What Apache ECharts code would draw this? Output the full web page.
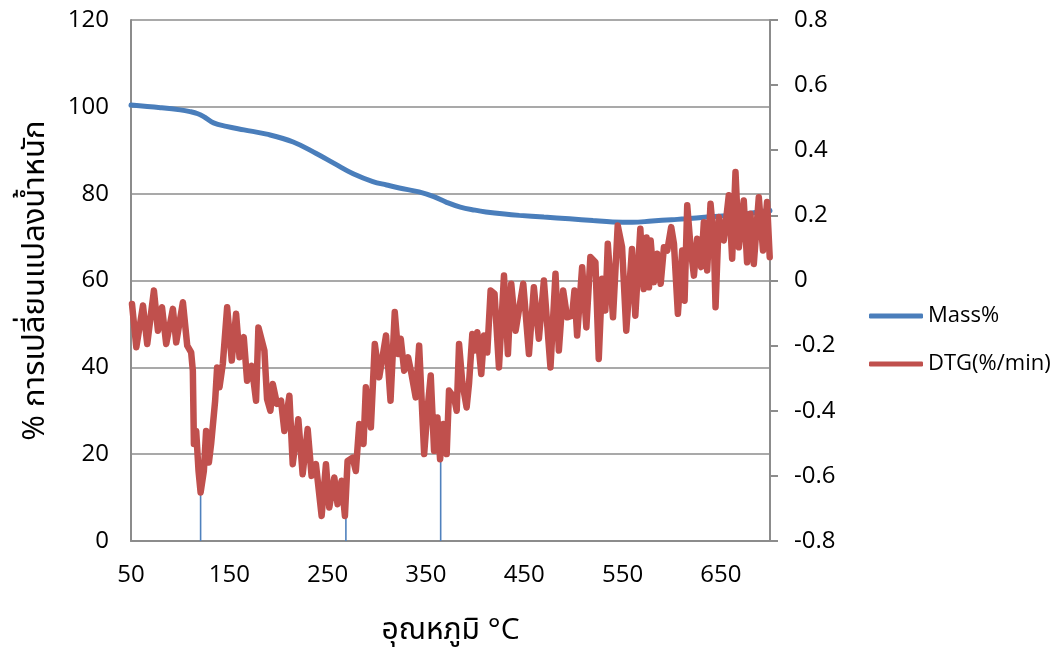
<!DOCTYPE html>
<html>
<head>
<meta charset="utf-8">
<style>
  html, body { margin: 0; padding: 0; background: #ffffff; overflow: hidden; }
  #chart { width: 1064px; height: 650px; }
</style>
<script src="https://cdn.jsdelivr.net/npm/echarts@6/dist/echarts.min.js"></script>
</head>
<body>
<div id="chart"></div>
<script>
// Temperature (°C) and remaining mass (%)
const massTemp = [50, 80, 100, 110, 118, 125, 134, 147, 165, 188, 215, 238, 258, 276, 296, 310, 323, 343, 358, 371, 385, 400, 411, 430, 445, 470, 496, 520, 540, 560, 580, 600, 614, 636, 658, 680, 695, 700];
const massPct  = [100.4, 99.8, 99.3, 98.9, 98.4, 97.6, 96.3, 95.5, 94.7, 93.7, 91.9, 89.3, 86.8, 84.6, 82.8, 82.0, 81.3, 80.4, 79.3, 78.0, 76.9, 76.2, 75.8, 75.3, 75.0, 74.6, 74.2, 73.8, 73.5, 73.4, 73.7, 74.0, 74.2, 74.6, 75.0, 75.5, 76.0, 76.1];

// Temperature (°C) and derivative mass loss (%/min)
const dtgTemp = [51.0, 55.4, 62.2, 66.5, 73.3, 77.4, 81.5, 85.8, 92.6, 96.0, 102.8, 107.2, 111.2, 112.9, 114.0, 116.3, 118.7, 120.8, 124.1, 126.4, 129.2, 131.5, 135.6, 137.6, 140.0, 143.4, 147.8, 152.5, 156.9, 160.4, 164.7, 168.1, 172.8, 177.2, 179.6,
  185.7, 188.4, 191.8, 194.2, 198.5, 202.6, 206.0, 211.1, 214.5, 220.2, 224.6, 229.7, 233.7, 238.1, 243.9, 248.3, 251.7, 256.8, 260.1, 264.2, 267.6, 270.3, 275.4, 278.7, 282.2, 286.5, 288.9, 294.0, 298.0, 302.5, 309.4, 314.0,
  318.3, 321.8, 324.4, 327.9, 331.9, 335.3, 339.6, 343.1, 348.2, 351.5, 354.9, 358.3, 361.7, 364.4, 367.8, 371.1, 373.5, 378.6, 381.3, 383.7, 387.0, 391.4, 393.8, 397.2, 399.5, 402.3, 406.3, 409.1, 412.4, 415.8, 419.8, 424.3, 429.4, 433.4, 436.8, 441.2,
  449.0, 454.8, 459.8, 464.9, 470.0, 476.7, 481.8, 485.2, 489.6, 493.6, 498.7, 501.1, 503.8, 508.9, 513.2, 517.3, 522.4, 525.8, 529.2, 532.5, 535.0, 540.3, 545.1, 549.5, 553.8, 559.6, 563.0, 568.1, 571.5,
  574.4, 576.9, 578.6, 582.0, 585.3, 588.8, 592.1, 595.5, 599.5, 602.3, 606.3, 610.7, 613.1, 615.8, 619.2, 622.6, 625.9, 630.0, 632.7, 636.1, 639.5, 642.9, 644.6, 648.0, 653.0, 658.1, 661.5, 664.9, 668.3, 673.3, 676.7, 680.1, 683.5, 688.6, 692.9, 697.0, 699.7];
const dtgRate = [-0.072, -0.205, -0.077, -0.195, -0.031, -0.154, -0.082, -0.195, -0.087, -0.190, -0.067, -0.200, -0.221, -0.277, -0.502, -0.462, -0.585, -0.651, -0.585, -0.462, -0.559, -0.502, -0.369, -0.267, -0.328, -0.256, -0.082, -0.246, -0.102, -0.236, -0.174, -0.308, -0.262, -0.369, -0.144,
  -0.215, -0.364, -0.400, -0.318, -0.379, -0.369, -0.462, -0.354, -0.564, -0.426, -0.595, -0.456, -0.600, -0.564, -0.723, -0.564, -0.697, -0.605, -0.687, -0.615, -0.723, -0.554, -0.544, -0.585, -0.441, -0.502, -0.328, -0.451, -0.195, -0.297, -0.169, -0.369,
  -0.097, -0.226, -0.179, -0.277, -0.236, -0.287, -0.359, -0.200, -0.533, -0.400, -0.292, -0.523, -0.421, -0.549, -0.441, -0.533, -0.338, -0.359, -0.400, -0.195, -0.313, -0.390, -0.318, -0.164, -0.215, -0.159, -0.287, -0.169, -0.221, -0.031, -0.041, -0.267, 0.015, -0.226, -0.010, -0.154,
  -0.010, -0.226, -0.021, -0.179, 0.000, -0.267, 0.021, -0.215, -0.031, -0.113, -0.108, -0.031, -0.169, 0.041, -0.144, 0.072, 0.056, -0.241, 0.005, -0.092, 0.113, -0.113, 0.169, 0.103, -0.154, 0.097, -0.108, 0.159, -0.026,
  0.132, -0.021, 0.123, -0.005, 0.082, -0.010, 0.102, 0.092, 0.164, 0.113, -0.102, 0.092, -0.062, 0.231, 0.102, 0.015, 0.128, 0.041, 0.179, 0.031, 0.236, 0.123, -0.082, 0.195, 0.123, 0.262, 0.067, 0.333, 0.102, 0.246, 0.056, 0.205, 0.051, 0.256, 0.092, 0.241, 0.072];

// DTG peak positions, marked with drop lines down to the axis
const peakTemp = [120.8, 268.6, 365.0];
const peakRate = [-0.651, -0.723, -0.549];

// Tick values
const xTicks = [50, 150, 250, 350, 450, 550, 650];
const massTicks = { min: 0, max: 120, step: 20 };
const dtgTicks = { min: -0.8, max: 0.8, step: 0.2 };

const FONT = '"Open Sans", "Noto Sans", "Noto Sans Thai", "Loma", "Garuda", "Tlwg Typo", sans-serif';
const AXIS_GRAY = '#8c8c8c';

const zip = (a, b) => a.map((v, i) => [v, b[i]]);

const peakSeries = peakTemp.map((t, i) => ({
  type: 'line',
  yAxisIndex: 1,
  data: [[t, dtgTicks.min], [t, peakRate[i]]],
  showSymbol: false,
  silent: true,
  lineStyle: { color: '#4F81BD', width: 1.6 },
  z: 1
}));

const chart = echarts.init(document.getElementById('chart'), null, { renderer: 'canvas', width: 1064, height: 650 });
chart.setOption({
  animation: false,
  backgroundColor: '#ffffff',
  textStyle: { fontFamily: FONT, color: '#000' },
  grid: { left: 131, top: 20, width: 639, height: 528, containLabel: false },
  legend: {
    data: ['Mass%', 'DTG(%/min)'],
    orient: 'vertical',
    left: 864,
    top: 300,
    itemWidth: 54,
    itemHeight: 5,
    itemGap: 26,
    icon: 'roundRect',
    textStyle: { fontFamily: FONT, fontSize: 22, color: '#000', padding: [0, 0, 0, 0] }
  },
  xAxis: {
    type: 'value',
    min: 50,
    max: 700,
    name: 'อุณหภูมิ °C',
    nameLocation: 'middle',
    nameGap: 74,
    nameTextStyle: { fontFamily: FONT, fontSize: 30, color: '#000' },
    axisLine: { show: true, lineStyle: { color: AXIS_GRAY, width: 2 } },
    axisTick: { show: false },
    splitLine: { show: false },
    axisLabel: {
      customValues: xTicks,
      fontFamily: FONT, fontSize: 24, color: '#000', margin: 22
    }
  },
  yAxis: [
    {
      type: 'value',
      min: massTicks.min,
      max: massTicks.max,
      interval: massTicks.step,
      name: '% การเปลี่ยนแปลงน้ำหนัก',
      nameLocation: 'middle',
      nameGap: 80,
      nameTextStyle: { fontFamily: FONT, fontSize: 31, color: '#000' },
      axisLine: { show: true, lineStyle: { color: AXIS_GRAY, width: 2 } },
      axisTick: { show: false },
      splitLine: { show: true, lineStyle: { color: AXIS_GRAY, width: 1.6 } },
      axisLabel: { fontFamily: FONT, fontSize: 24, color: '#000', margin: 22 }
    },
    {
      type: 'value',
      position: 'right',
      min: dtgTicks.min,
      max: dtgTicks.max,
      interval: dtgTicks.step,
      axisLine: { show: true, lineStyle: { color: AXIS_GRAY, width: 2 } },
      axisTick: { show: true, inside: false, length: 8, lineStyle: { color: AXIS_GRAY, width: 2 } },
      splitLine: { show: false },
      axisLabel: {
        fontFamily: FONT, fontSize: 24, color: '#000', margin: 24,
        formatter: v => String(Math.round(v * 10) / 10)
      }
    }
  ],
  series: [
    ...peakSeries,
    {
      name: 'Mass%',
      type: 'line',
      yAxisIndex: 0,
      data: zip(massTemp, massPct),
      smooth: 0.4,
      showSymbol: false,
      lineStyle: { color: '#4A7EBB', width: 5, cap: 'round' },
      itemStyle: { color: '#4A7EBB' },
      z: 2
    },
    {
      name: 'DTG(%/min)',
      type: 'line',
      yAxisIndex: 1,
      data: zip(dtgTemp, dtgRate),
      showSymbol: false,
      lineStyle: { color: '#C0504D', width: 6.5, join: 'round', cap: 'round' },
      itemStyle: { color: '#C0504D' },
      z: 3
    }
  ]
});
</script>
</body>
</html>
